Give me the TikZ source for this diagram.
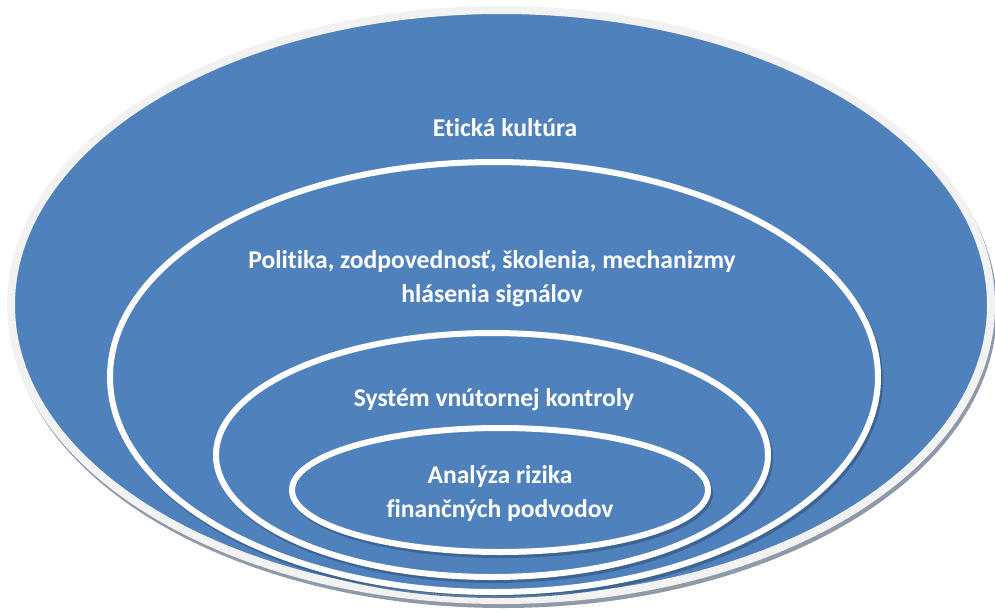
\documentclass[tikz,border=0pt]{standalone}
\usepackage{fontspec}
\setmainfont[Ligatures=NoCommon]{Carlito}
\definecolor{fillblue}{HTML}{4F81BD}
\definecolor{rimgray}{HTML}{F2F2F2}
\definecolor{shadowgray}{HTML}{8E9AA8}
\definecolor{shadowblue}{HTML}{385D8A}
\begin{document}
\begin{tikzpicture}[x=1pt,y=-1pt,
  outerring/.style={fill=fillblue,draw=rimgray,line width=8pt},
  ring/.style={fill=fillblue,draw=white,line width=6pt},
  ringshadow/.style={draw=shadowblue,line width=6pt,opacity=0.8},
  outershadow/.style={draw=shadowgray,line width=8pt},
  lbl/.style={text=white,font=\bfseries\fontsize{25.6}{34}\selectfont,align=center,inner sep=0pt}]
\useasboundingbox (0,0) rectangle (995,613);
% outer
\draw[outershadow] (503,309) ellipse [x radius=490,y radius=295];
\draw[outerring] (501,305) ellipse [x radius=490,y radius=295];
% second
\draw[ringshadow] (496,380) ellipse [x radius=384,y radius=215];
\draw[ring] (494,377) ellipse [x radius=384,y radius=215];
% third
\draw[ringshadow] (494,458) ellipse [x radius=276,y radius=122];
\draw[ring] (492,455) ellipse [x radius=276,y radius=122];
% fourth
\draw[ringshadow] (502,493) ellipse [x radius=208,y radius=62];
\draw[ring] (500,490) ellipse [x radius=208,y radius=62];
% labels
\node[lbl] (l1) at (505,128) {Etická kultúra};
\node[lbl] (l2) at (492,279) {Politika, zodpovednosť, školenia, mechanizmy\\hlásenia signálov};
\node[lbl] (l3) at (494,400) {Systém vnútornej kontroly};
\node[lbl] (l4) at (500,494) {Analýza rizika\\finančných podvodov};
\end{tikzpicture}
\end{document}
